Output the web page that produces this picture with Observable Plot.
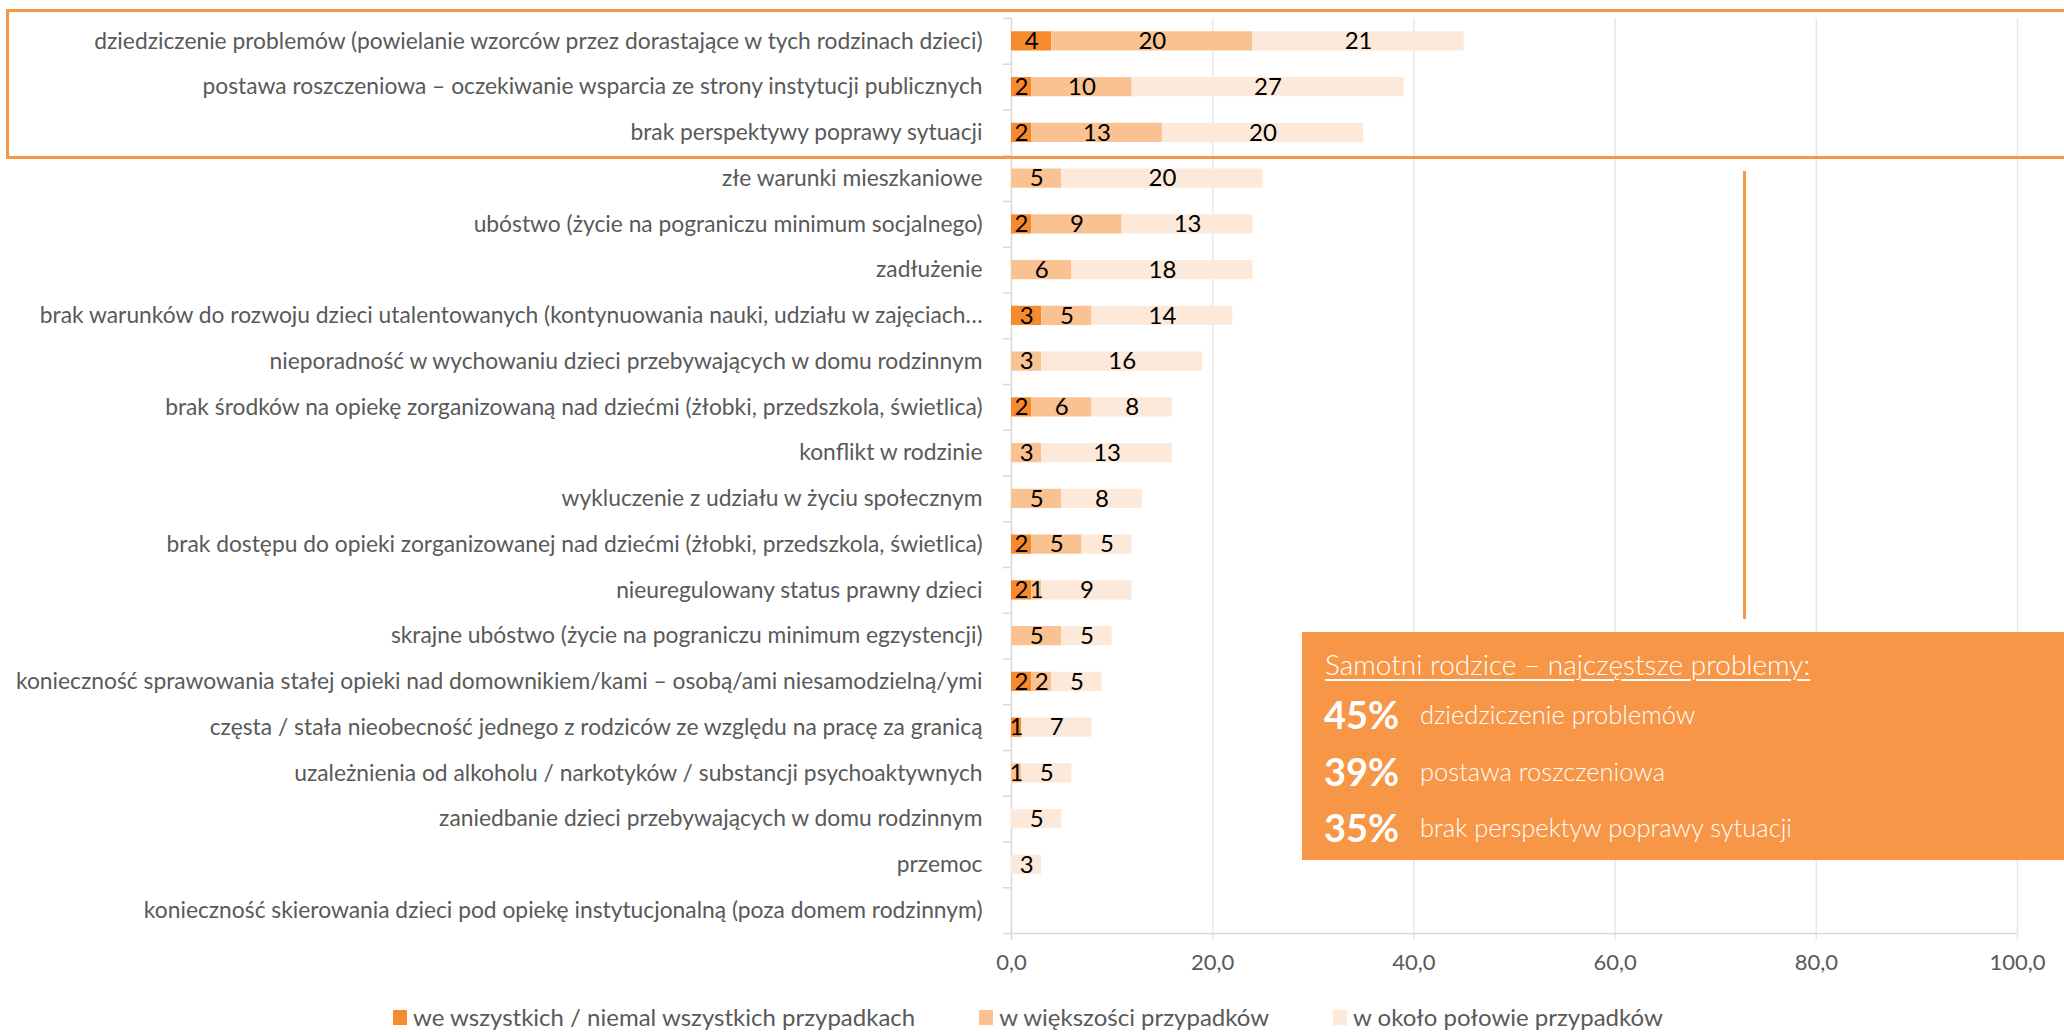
<!DOCTYPE html>
<html>
<head>
<meta charset="utf-8">
<script src="https://cdn.jsdelivr.net/npm/d3@7"></script>
<script src="https://cdn.jsdelivr.net/npm/@observablehq/plot@0.6"></script>
<style>
  html, body { margin: 0; padding: 0; background: #fff; overflow: hidden; }
  #wrap { position: relative; width: 2064px; height: 1032px; overflow: hidden; background: #fff; font-family: Lato, sans-serif; }
  #chart { position: absolute; left: 0; top: 0; }
  #legend { position: absolute; left: 393px; top: 1005px; display: flex; justify-content: flex-start; gap: 64px; color: #595959; font-size: 24px; line-height: 24px; font-family: Lato, sans-serif; }
  #legend .item { display: flex; align-items: center; gap: 6px; white-space: nowrap; }
  #legend .sw { width: 14px; height: 15px; display: inline-block; }
  #outline { position: absolute; left: 6px; top: 9px; width: 2200px; height: 144px; border: 3px solid #F79646; }
  #vline { position: absolute; left: 1743px; top: 171px; width: 3px; height: 448px; background: #F79646; }
  #infobox { position: absolute; left: 1302px; top: 632px; width: 762px; height: 228px; background: #F79646; color: #fff; font-family: Lato, sans-serif; }
  #infobox .title { position: absolute; left: 23px; top: 15px; font-size: 28px; font-weight: 300; text-decoration: underline; text-underline-offset: 4px; text-decoration-thickness: 2px; white-space: nowrap; }
  #infobox .row { position: absolute; left: 22px; display: flex; align-items: center; white-space: nowrap; }
  #infobox .pct { font-size: 38px; font-weight: 700; width: 96px; }
  #infobox .txt { font-size: 25.5px; font-weight: 300; }
</style>
</head>
<body>
<div id="wrap">
  <div id="chart"></div>
  <div id="outline"></div>
  <div id="vline"></div>
  <div id="infobox"></div>
  <div id="legend"></div>
</div>
<script>
const categories = [
  "dziedziczenie problemów (powielanie wzorców przez dorastające w tych rodzinach dzieci)",
  "postawa roszczeniowa – oczekiwanie wsparcia ze strony instytucji publicznych",
  "brak perspektywy poprawy sytuacji",
  "złe warunki mieszkaniowe",
  "ubóstwo (życie na pograniczu minimum socjalnego)",
  "zadłużenie",
  "brak warunków do rozwoju dzieci utalentowanych (kontynuowania nauki, udziału w zajęciach…",
  "nieporadność w wychowaniu dzieci przebywających w domu rodzinnym",
  "brak środków na opiekę zorganizowaną nad dziećmi (żłobki, przedszkola, świetlica)",
  "konflikt w rodzinie",
  "wykluczenie z udziału w życiu społecznym",
  "brak dostępu do opieki zorganizowanej nad dziećmi (żłobki, przedszkola, świetlica)",
  "nieuregulowany status prawny dzieci",
  "skrajne ubóstwo (życie na pograniczu minimum egzystencji)",
  "konieczność sprawowania stałej opieki nad domownikiem/kami – osobą/ami niesamodzielną/ymi",
  "częsta / stała nieobecność jednego z rodziców ze względu na pracę za granicą",
  "uzależnienia od alkoholu / narkotyków / substancji psychoaktywnych",
  "zaniedbanie dzieci przebywających w domu rodzinnym",
  "przemoc",
  "konieczność skierowania dzieci pod opiekę instytucjonalną (poza domem rodzinnym)"
];
const allCases  = [4, 2, 2, 0, 2, 0, 3, 0, 2, 0, 0, 2, 2, 0, 2, 1, 0, 0, 0, 0];
const mostCases = [20, 10, 13, 5, 9, 6, 5, 3, 6, 3, 5, 5, 1, 5, 2, 0, 1, 0, 0, 0];
const halfCases = [21, 27, 20, 20, 13, 18, 14, 16, 8, 13, 8, 5, 9, 5, 5, 7, 5, 5, 3, 0];
const seriesNames = [
  "we wszystkich / niemal wszystkich przypadkach",
  "w większości przypadków",
  "w około połowie przypadków"
];
const seriesColors = ["#F58A2E", "#FAC191", "#FDE9D9"];
const xTicks = [0, 20, 40, 60, 80, 100];

const infoTitle = "Samotni rodzice – najczęstsze problemy:";
const infoPercents = ["45%", "39%", "35%"];
const infoItems = ["dziedziczenie problemów", "postawa roszczeniowa", "brak perspektyw poprawy sytuacji"];

const rows = categories.flatMap((c, i) =>
  [allCases[i], mostCases[i], halfCases[i]].map((v, j) => ({cat: c, series: seriesNames[j], value: v}))
);

const W = 2064, H = 990, mL = 1011, mR = 47, mT = 18, mB = 57;
const step = (H - mT - mB) / categories.length;
const fmt = d => d.toFixed(1).replace(".", ",");
const lastCat = categories[categories.length - 1];

const chart = Plot.plot({
  width: W, height: H,
  marginLeft: mL, marginRight: mR, marginTop: mT, marginBottom: mB,
  style: {fontFamily: "Lato, sans-serif", background: "white", color: "#595959", overflow: "visible"},
  x: {domain: [0, 100]},
  y: {domain: categories, paddingInner: 0.58, paddingOuter: 0.29, round: false},
  color: {domain: seriesNames, range: seriesColors},
  marks: [
    Plot.ruleX(xTicks.slice(1), {stroke: "#E8E8E8", strokeWidth: 1.5, insetBottom: -7}),
    Plot.ruleX([0], {stroke: "#D9D9D9", strokeWidth: 1.5, insetBottom: -7}),
    Plot.ruleY(categories, {y: d => d, x1: -0.8, x2: d => d === lastCat ? 100 : 0, dy: step / 2, stroke: "#D9D9D9", strokeWidth: 1.5}),
    Plot.ruleY(categories.slice(0, 1), {y: d => d, x1: -0.8, x2: 0, dy: -step / 2, stroke: "#D9D9D9", strokeWidth: 1.5}),
    Plot.barX(rows, Plot.stackX({x: "value", y: "cat", fill: "series"})),
    Plot.text(rows, Plot.stackX({x: "value", y: "cat", z: "series",
      text: d => d.value > 0 ? String(d.value) : null, fill: "#000", fontSize: 24})),
    Plot.axisX({ticks: xTicks, tickFormat: fmt, tickSize: 0, tickPadding: 21, fontSize: 22, label: null}),
    Plot.axisY({tickSize: 0, tickPadding: 29, fontSize: 22.8, label: null})
  ]
});
document.getElementById("chart").appendChild(chart);

// legend
const legend = document.getElementById("legend");
seriesNames.forEach((name, i) => {
  const item = document.createElement("div");
  item.className = "item";
  const sw = document.createElement("span");
  sw.className = "sw";
  sw.style.background = seriesColors[i];
  const t = document.createElement("span");
  t.textContent = name;
  item.appendChild(sw);
  item.appendChild(t);
  legend.appendChild(item);
});

// info box
const box = document.getElementById("infobox");
const title = document.createElement("div");
title.className = "title";
title.textContent = infoTitle;
box.appendChild(title);
infoPercents.forEach((p, i) => {
  const row = document.createElement("div");
  row.className = "row";
  row.style.top = (59 + i * 56.5) + "px";
  const a = document.createElement("span"); a.className = "pct"; a.textContent = p;
  const b = document.createElement("span"); b.className = "txt"; b.textContent = infoItems[i];
  row.appendChild(a); row.appendChild(b);
  box.appendChild(row);
});
</script>
</body>
</html>
